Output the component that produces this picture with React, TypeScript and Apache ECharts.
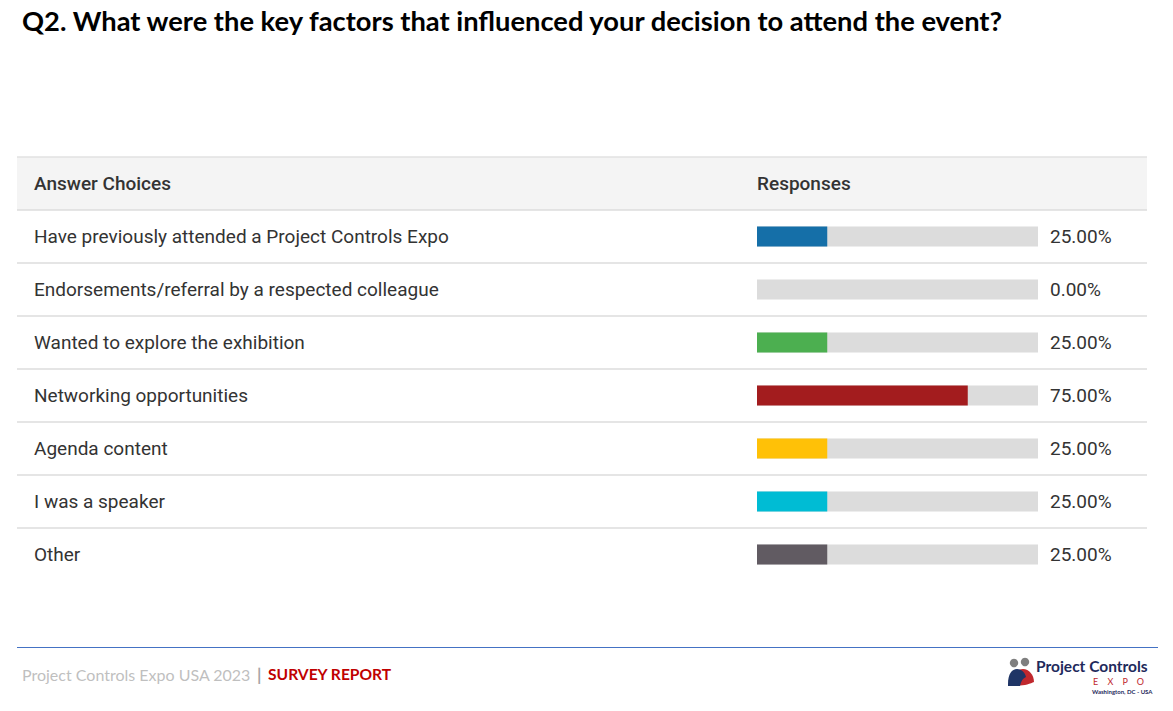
import React, { useEffect, useRef } from "react";
import * as echarts from "echarts";

const titleText = "Q2. What were the key factors that influenced your decision to attend the event?";
const headerLeft = "Answer Choices";
const headerRight = "Responses";
const categories = [
  "Have previously attended a Project Controls Expo",
  "Endorsements/referral by a respected colleague",
  "Wanted to explore the exhibition",
  "Networking opportunities",
  "Agenda content",
  "I was a speaker",
  "Other",
];
const values = [25, 0, 25, 75, 25, 25, 25];
const barColors = ["#156fa8", "#8e8e8e", "#4caf50", "#a31c1e", "#ffc107", "#00bcd4", "#615b62"];
const footerLeft = "Project Controls Expo USA 2023";
const footerRight = "SURVEY REPORT";

const GRID_TOP = 210;
const ROW_H = 53;
const TABLE_L = 17;
const TABLE_R = 1147;
const BAR_L = 757;
const BAR_W = 281;

export default function App() {
  const ref = useRef<HTMLDivElement>(null);
  useEffect(() => {
    if (!ref.current) return;
    echarts.graphic.registerShape(
      "bodyBlue",
      echarts.graphic.extendPath("M0 15 C0 5 4 0 9 0 C14 0 17 4 18 8 C15 9 13 12 12 17 L0 17 Z", {})
    );
    echarts.graphic.registerShape(
      "bodyRed",
      echarts.graphic.extendPath("M0 17 C0 7 5 1 11 1 C17 1 22 7 22 14 C18 16 8 19 0 17 Z", {})
    );
    const chart = echarts.init(ref.current, null, { renderer: "svg" });
    const n = categories.length;
    const rowLines: any[] = [];
    for (let i = 1; i < n; i++) {
      const y = GRID_TOP + i * ROW_H;
      rowLines.push({
        type: "line",
        shape: { x1: TABLE_L, y1: y, x2: TABLE_R, y2: y },
        style: { stroke: "#dcdcdc", lineWidth: 1.5 },
      });
    }
    const font = "Roboto, 'Noto Sans', sans-serif";
    chart.setOption({
      animation: false,
      grid: { left: BAR_L, top: GRID_TOP, width: BAR_W, height: n * ROW_H, containLabel: false },
      xAxis: { type: "value", min: 0, max: 100, show: false },
      yAxis: [
        {
          type: "category",
          data: categories,
          inverse: true,
          axisLine: { show: false },
          axisTick: { show: false },
          axisLabel: {
            align: "left",
            margin: BAR_L - 34,
            fontFamily: font,
            fontSize: 19,
            color: "#333333",
          },
        },
        {
          type: "category",
          data: categories,
          inverse: true,
          position: "right",
          axisLine: { show: false },
          axisTick: { show: false },
          axisLabel: {
            align: "left",
            margin: 12,
            fontFamily: font,
            fontSize: 19,
            color: "#333333",
            formatter: (_v: string, i: number) => values[i].toFixed(2) + "%",
          },
        },
      ],
      series: [
        {
          type: "bar",
          data: values.map((v, i) => ({ value: v, itemStyle: { color: barColors[i] } })),
          barWidth: 20,
          showBackground: true,
          backgroundStyle: { color: "#dcdcdc" },
          silent: true,
        },
      ],
      graphic: [
        {
          type: "text",
          left: 22,
          top: 7,
          style: { text: titleText, font: "bold 27.3px Lato, 'Open Sans', sans-serif", fill: "#000000" },
        },
        {
          type: "rect",
          shape: { x: TABLE_L, y: 157, width: TABLE_R - TABLE_L, height: GRID_TOP - 157 },
          style: { fill: "#f4f4f4" },
          z: -1,
        },
        { type: "line", shape: { x1: TABLE_L, y1: 157, x2: TABLE_R, y2: 157 }, style: { stroke: "#e2e2e2", lineWidth: 1.5 } },
        { type: "line", shape: { x1: TABLE_L, y1: GRID_TOP, x2: TABLE_R, y2: GRID_TOP }, style: { stroke: "#dcdcdc", lineWidth: 1.5 } },
        ...rowLines,
        {
          type: "text",
          x: 34,
          y: 183,
          style: { text: headerLeft, font: "500 19px " + font, fill: "#333333", verticalAlign: "middle" },
        },
        {
          type: "text",
          x: BAR_L,
          y: 183,
          style: { text: headerRight, font: "500 19px " + font, fill: "#333333", verticalAlign: "middle" },
        },
        { type: "line", shape: { x1: 17, y1: 647.5, x2: 1158, y2: 647.5 }, style: { stroke: "#4472c4", lineWidth: 1 } },
        {
          type: "text",
          x: 22,
          y: 674,
          style: { text: footerLeft, font: "16px Lato, 'Open Sans', sans-serif", fill: "#bfbfbf", verticalAlign: "middle" },
        },
        {
          type: "text",
          x: 257,
          y: 674,
          style: { text: "|", font: "bold 17px Lato, sans-serif", fill: "#a6a6a6", verticalAlign: "middle" },
        },
        {
          type: "text",
          x: 268,
          y: 674,
          style: { text: footerRight, font: "bold 15.6px Lato, 'Open Sans', sans-serif", fill: "#c00000", verticalAlign: "middle" },
        },
        // logo
        { type: "circle", shape: { cx: 1014, cy: 663, r: 4.2 }, style: { fill: "#7f7f7f" } },
        { type: "circle", shape: { cx: 1025, cy: 662, r: 4.2 }, style: { fill: "#7f7f7f" } },
        { type: "bodyRed", x: 1012, y: 668, style: { fill: "#c0282d" } },
        { type: "bodyBlue", x: 1008, y: 669, style: { fill: "#1f3566" } },
        {
          type: "text",
          x: 1036,
          y: 666,
          style: { text: "Project Controls", font: "bold 15.5px Lato, sans-serif", fill: "#1f2a5c", verticalAlign: "middle" },
        },
        {
          type: "text",
          x: 1093,
          y: 681.5,
          style: { text: "E    X    P    O", font: "9px Lato, sans-serif", fill: "#c0282d", verticalAlign: "middle" },
        },
        {
          type: "text",
          x: 1092,
          y: 691,
          style: { text: "Washington, DC - USA", font: "bold 6px Lato, sans-serif", fill: "#1f2a5c", verticalAlign: "middle" },
        },
      ],
    });
    return () => chart.dispose();
  }, []);
  return (
    <div
      ref={ref}
      style={{ position: "absolute", left: 0, top: 0, width: 1173, height: 711, background: "#ffffff" }}
    />
  );
}
